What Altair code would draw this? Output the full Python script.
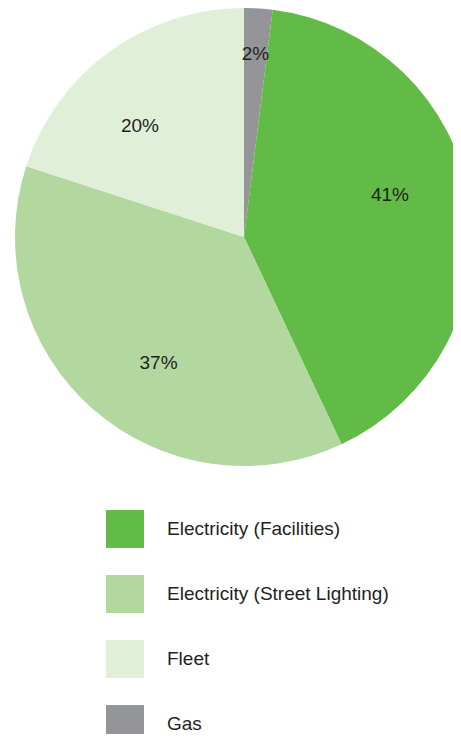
import altair as alt
import pandas as pd

categories = ["Gas", "Electricity (Facilities)", "Electricity (Street Lighting)", "Fleet"]
shares = [2, 41, 37, 20]
labels = ["2%", "41%", "37%", "20%"]
slice_order = [0, 1, 2, 3]

legend_order = ["Electricity (Facilities)", "Electricity (Street Lighting)", "Fleet", "Gas"]
legend_colors = ["#62bb46", "#b2d8a0", "#dfefd8", "#939598"]

df = pd.DataFrame({"category": categories, "share": shares, "label": labels, "ord": slice_order})

CX, CY, R = 236, 229, 229
FONT = "Liberation Sans"
FS = 19

base = alt.Chart(df).encode(
    theta=alt.Theta("share:Q", stack=True),
    order=alt.Order("ord:Q", sort="ascending"),
)

pie = base.mark_arc(radius=R, strokeWidth=0).encode(
    x=alt.value(CX), y=alt.value(CY),
    color=alt.Color(
        "category:N",
        scale=alt.Scale(domain=legend_order, range=legend_colors),
        sort=legend_order,
        legend=alt.Legend(
            title=None, orient="none", legendX=98, legendY=502,
            symbolType="square", symbolSize=1444, symbolStrokeWidth=0,
            labelFontSize=FS, labelFont=FONT, labelColor="#231f20",
            labelOffset=23, rowPadding=27, labelLimit=400, padding=0,
        ),
    ),
)

text_main = base.mark_text(radius=152, fontSize=FS, font=FONT, color="#231f20").encode(
    x=alt.value(CX), y=alt.value(CY),
    text="label:N",
).transform_filter(alt.datum.share >= 10)

text_small = base.mark_text(radius=183, fontSize=FS, font=FONT, color="#231f20").encode(
    x=alt.value(CX), y=alt.value(CY),
    text=alt.condition(alt.datum.share < 10, "label:N", alt.value("")),
)

chart = alt.layer(pie, text_main, text_small).properties(
    width=445, height=726, autosize=alt.AutoSizeParams(type="none"), padding=0
).configure_view(stroke=None)

chart.save("out.html", embed_options={"renderer": "svg", "actions": False})
